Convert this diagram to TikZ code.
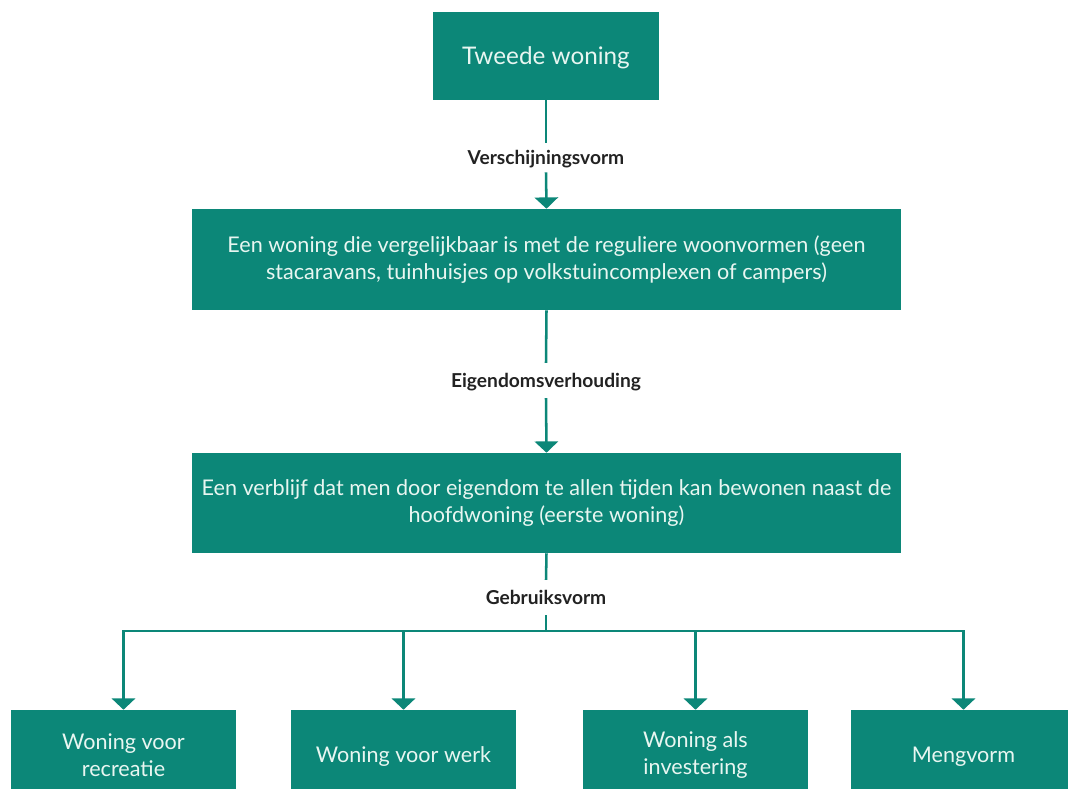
\documentclass[tikz,border=0pt]{standalone}
\usepackage{fontspec}
\setmainfont{Lato}
\usetikzlibrary{arrows.meta}
\definecolor{teal1}{RGB}{12,135,120}
\definecolor{boxtext}{RGB}{232,246,241}
\definecolor{labtext}{RGB}{34,34,34}
\tikzset{
  box/.style={fill=teal1, draw=none, text=boxtext, align=center, inner sep=0pt, font=\fontsize{16.2}{20.25}\selectfont},
  onebox/.style={box, text height=11.7pt, text depth=0pt},
  lab/.style={text=labtext, inner sep=0pt, font=\bfseries\fontsize{14.4}{16}\selectfont, text height=10.4pt, text depth=0pt},
  conn/.style={draw=teal1, line width=1.9pt},
  arr/.style={conn, -{Triangle[width=17.5pt,length=8.5pt]}},
}
\begin{document}
\begin{tikzpicture}[x=0.75pt,y=-0.75pt]
\useasboundingbox (0,0) rectangle (1068,789);
\clip (0,0) rectangle (1068,789);
\node[onebox, minimum width=169.5pt, minimum height=66pt, font=\fontsize{18.2}{22}\selectfont, text height=13.1pt] (top) at (546,56) {Tweede woning};
\node[box, minimum width=531.75pt, minimum height=75.75pt] (vorm) at (546.5,259.5) {Een woning die vergelijkbaar is met de reguliere woonvormen (geen\\stacaravans, tuinhuisjes op volkstuincomplexen of campers)};
\node[box, minimum width=531.75pt, minimum height=75pt] (eigen) at (546.5,503) {Een verblijf dat men door eigendom te allen tijden kan bewonen naast de\\hoofdwoning (eerste woning)};
\node[lab, minimum height=21.75pt] (l1) at (546,157.5) {Verschijningsvorm};
\node[lab, minimum height=26pt] (l2) at (546,380.5) {Eigendomsverhouding};
\node[lab, minimum height=26pt] (l3) at (546,597.5) {Gebruiksvorm};
\node[box, minimum width=169pt, minimum height=67.5pt] (b1) at (123.5,755) {Woning voor\\recreatie};
\node[onebox, minimum width=169pt, minimum height=67.5pt] (b2) at (403.5,755) {Woning voor werk};
\node[box, minimum width=169pt, minimum height=67.5pt] (b3) at (695.5,755) {Woning als\\investering};
\node[onebox, minimum width=169pt, minimum height=67.5pt] (b4) at (963.5,755) {Mengvorm};
\coordinate (j) at (546,631);
\draw[conn] (top.south) -- (l1.north);
\draw[arr] (l1.south) -- (vorm.north);
\draw[conn] (vorm.south) -- (l2.north);
\draw[arr] (l2.south) -- (eigen.north);
\draw[conn] (eigen.south) -- (l3.north);
\draw[conn] (l3.south) -- (j);
\draw[arr] (j) -| (b1.north);
\draw[arr] (j) -| (b2.north);
\draw[arr] (j) -| (b3.north);
\draw[arr] (j) -| (b4.north);
\end{tikzpicture}
\end{document}
